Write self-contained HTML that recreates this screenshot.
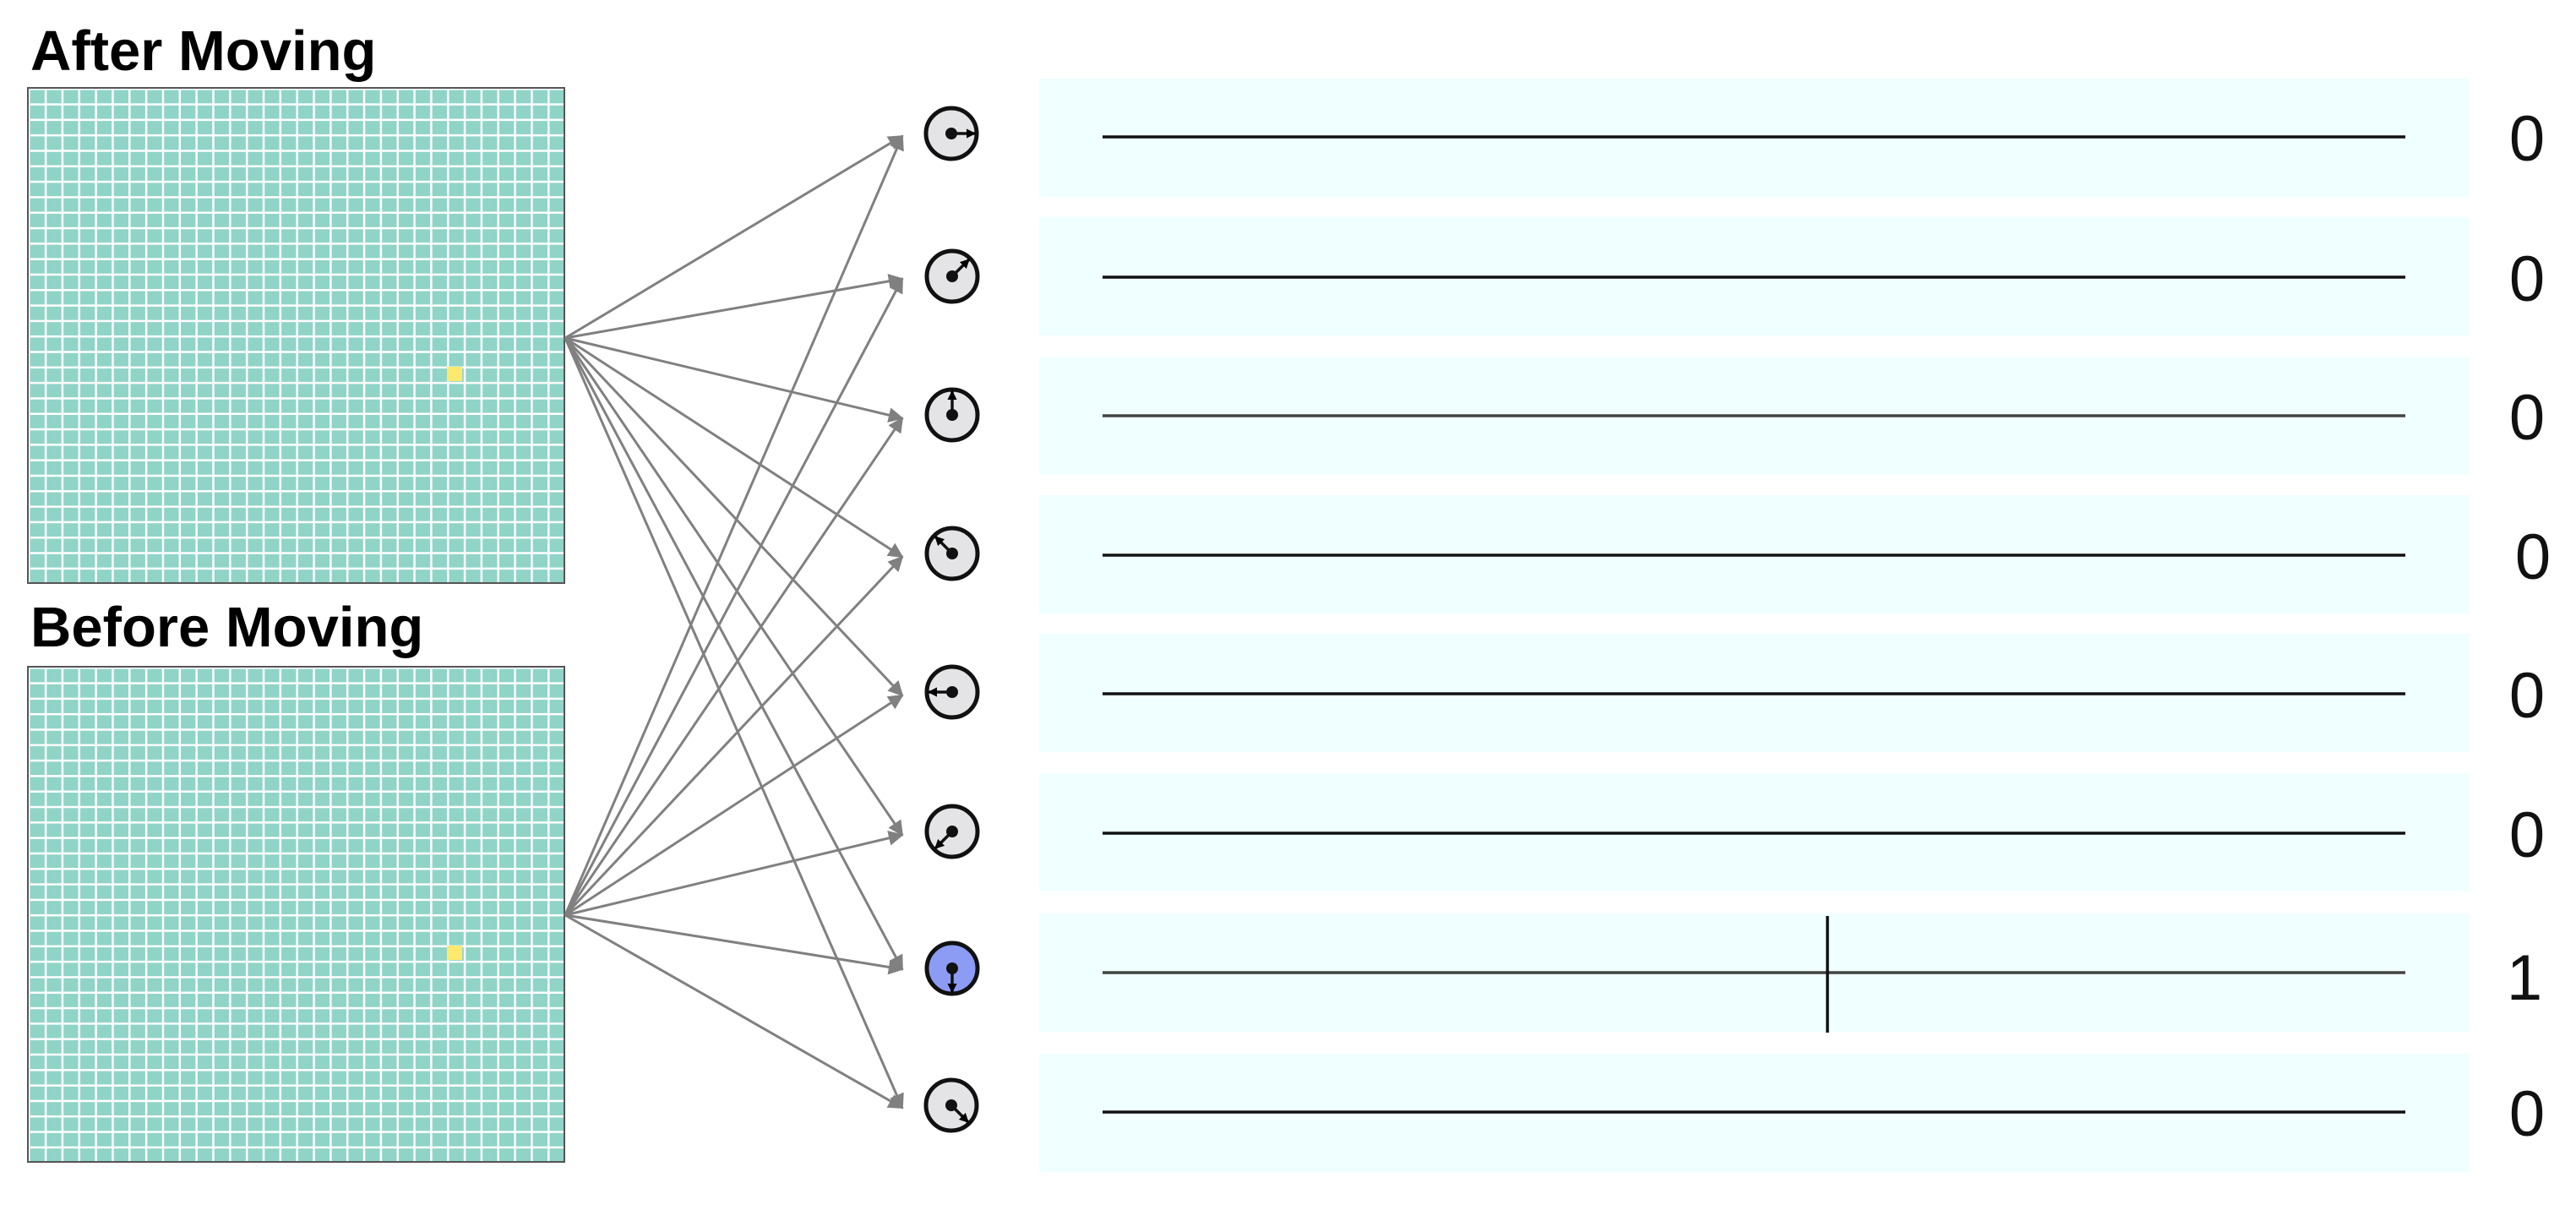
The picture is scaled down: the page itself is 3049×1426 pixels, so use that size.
<!DOCTYPE html>
<html><head><meta charset="utf-8"><style>
html,body{margin:0;padding:0;background:#fff}
svg{display:block}
</style></head><body>
<svg width="3049" height="1426" viewBox="0 0 3049 1426" xmlns="http://www.w3.org/2000/svg">
<defs>
<pattern id="g1" patternUnits="userSpaceOnUse" x="33" y="104" width="19.84" height="18.31">
<rect width="19.84" height="18.31" fill="#8fd4c7"/>
<rect x="0" y="0" width="2.5" height="18.31" fill="#fff"/>
<rect x="0" y="0" width="19.84" height="2.5" fill="#fff"/>
</pattern>
<pattern id="g2" patternUnits="userSpaceOnUse" x="33" y="789" width="19.84" height="18.31">
<rect width="19.84" height="18.31" fill="#8fd4c7"/>
<rect x="0" y="0" width="2.5" height="18.31" fill="#fff"/>
<rect x="0" y="0" width="19.84" height="2.5" fill="#fff"/>
</pattern>
<marker id="ah" viewBox="0 0 10 10" refX="9" refY="5" markerWidth="6" markerHeight="6" orient="auto" markerUnits="strokeWidth">
<path d="M0,0 L10,5 L0,10 z" fill="#808080"/>
</marker>
<marker id="bh" viewBox="0 0 10 10" refX="9" refY="5" markerWidth="3.2" markerHeight="3.2" orient="auto" markerUnits="strokeWidth">
<path d="M0,0 L10,5 L0,10 z" fill="#000"/>
</marker>
</defs>

<text x="36" y="83" font-family="Liberation Sans, sans-serif" font-weight="bold" font-size="67">After Moving</text>
<text x="36" y="765" font-family="Liberation Sans, sans-serif" font-weight="bold" font-size="67">Before Moving</text>

<rect x="33" y="104" width="635" height="586" fill="url(#g1)" stroke="#555" stroke-width="2"/>
<rect x="529" y="434" width="18" height="17" fill="#fde96e"/>
<rect x="33" y="789" width="635" height="586" fill="url(#g2)" stroke="#555" stroke-width="2"/>
<rect x="529" y="1119" width="18" height="17" fill="#fde96e"/>

<g fill="#f0ffff">
<rect x="1230" y="93" width="1693" height="140"/>
<rect x="1230" y="257" width="1693" height="140"/>
<rect x="1230" y="422" width="1693" height="140"/>
<rect x="1230" y="586" width="1693" height="140"/>
<rect x="1230" y="750" width="1693" height="140"/>
<rect x="1230" y="915" width="1693" height="140"/>
<rect x="1230" y="1081" width="1693" height="140"/>
<rect x="1230" y="1247" width="1693" height="140"/>
</g>
<g stroke="#111" stroke-width="3.5">
<line x1="1305" y1="162" x2="2847" y2="162"/>
<line x1="1305" y1="328" x2="2847" y2="328"/>
<line x1="1305" y1="492" x2="2847" y2="492" stroke="#444"/>
<line x1="1305" y1="657" x2="2847" y2="657"/>
<line x1="1305" y1="821" x2="2847" y2="821"/>
<line x1="1305" y1="986" x2="2847" y2="986"/>
<line x1="1305" y1="1151" x2="2847" y2="1151" stroke="#444"/>
<line x1="1305" y1="1316" x2="2847" y2="1316"/>
<line x1="2163" y1="1084" x2="2163" y2="1222"/>
</g>
<g font-family="Liberation Sans, sans-serif" font-size="76" text-anchor="middle" fill="#111">
<text x="2991" y="190">0</text>
<text x="2991" y="356">0</text>
<text x="2991" y="520">0</text>
<text x="2998" y="685">0</text>
<text x="2991" y="849">0</text>
<text x="2991" y="1014">0</text>
<text x="2988" y="1183">1</text>
<text x="2991" y="1344">0</text>
</g>

<g stroke="#808080" stroke-width="3" fill="none" marker-end="url(#ah)">
<line x1="669" y1="400" x2="1068" y2="161"/>
<line x1="669" y1="400" x2="1068" y2="330"/>
<line x1="669" y1="400" x2="1068" y2="495"/>
<line x1="669" y1="400" x2="1068" y2="659"/>
<line x1="669" y1="400" x2="1068" y2="823"/>
<line x1="669" y1="400" x2="1068" y2="988"/>
<line x1="669" y1="400" x2="1068" y2="1147"/>
<line x1="669" y1="400" x2="1068" y2="1311"/>
<line x1="669" y1="1083" x2="1068" y2="161"/>
<line x1="669" y1="1083" x2="1068" y2="330"/>
<line x1="669" y1="1083" x2="1068" y2="495"/>
<line x1="669" y1="1083" x2="1068" y2="659"/>
<line x1="669" y1="1083" x2="1068" y2="823"/>
<line x1="669" y1="1083" x2="1068" y2="988"/>
<line x1="669" y1="1083" x2="1068" y2="1147"/>
<line x1="669" y1="1083" x2="1068" y2="1311"/>
</g>

<g stroke="#111" stroke-width="5">
<circle cx="1126" cy="158" r="30" fill="#e4e4e6"/>
<circle cx="1127" cy="327" r="30" fill="#e4e4e6"/>
<circle cx="1127" cy="491" r="30" fill="#e4e4e6"/>
<circle cx="1127" cy="655" r="30" fill="#e4e4e6"/>
<circle cx="1127" cy="819" r="30" fill="#e4e4e6"/>
<circle cx="1127" cy="984" r="30" fill="#e4e4e6"/>
<circle cx="1127" cy="1146" r="30" fill="#8c9cf5"/>
<circle cx="1126" cy="1308" r="30" fill="#e4e4e6"/>
</g>
<g fill="#111">
<circle cx="1126" cy="158" r="7"/>
<circle cx="1127" cy="327" r="7"/>
<circle cx="1127" cy="491" r="7"/>
<circle cx="1127" cy="655" r="7"/>
<circle cx="1127" cy="819" r="7"/>
<circle cx="1127" cy="984" r="7"/>
<circle cx="1127" cy="1146" r="7"/>
<circle cx="1126" cy="1308" r="7"/>
</g>
<g stroke="#111" stroke-width="3.5" marker-end="url(#bh)">
<line x1="1126" y1="158" x2="1154" y2="158"/>
<line x1="1127" y1="327" x2="1147" y2="307"/>
<line x1="1127" y1="491" x2="1127" y2="463"/>
<line x1="1127" y1="655" x2="1107" y2="635"/>
<line x1="1127" y1="819" x2="1099" y2="819"/>
<line x1="1127" y1="984" x2="1107" y2="1004"/>
<line x1="1127" y1="1146" x2="1127" y2="1174"/>
<line x1="1126" y1="1308" x2="1146" y2="1328"/>
</g>
</svg>
</body></html>
